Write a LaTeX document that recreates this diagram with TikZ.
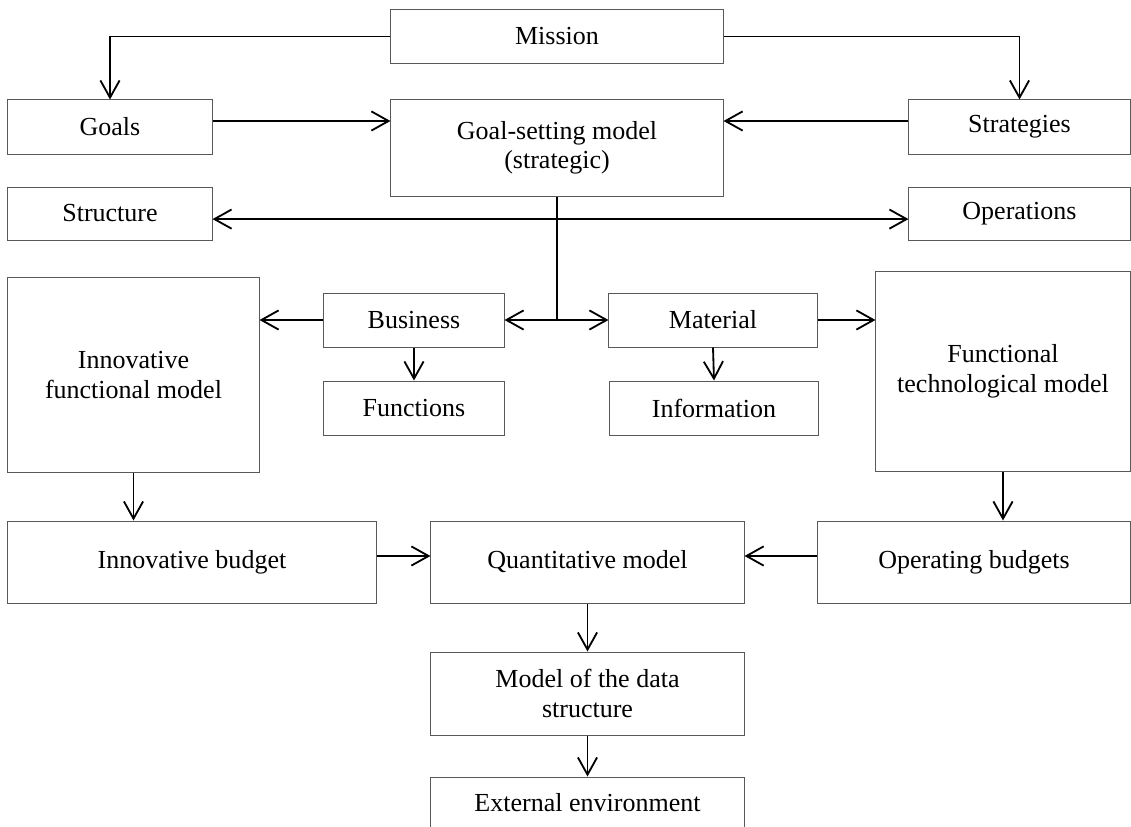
\documentclass[tikz,border=0pt]{standalone}
\usepackage{fontspec}
\setmainfont{Liberation Serif}
\usetikzlibrary{arrows.meta}

\tikzset{
  box/.style={draw=black!65, line width=0.7pt, inner sep=0pt, align=center,
    font=\fontsize{18.5}{21}\selectfont},
  link/.style={line width=1.3pt},
  arr/.style={link, -{Straight Barb[length=4.3mm,width=4.8mm]}},
  biarr/.style={link, {Straight Barb[length=4.3mm,width=4.8mm]}-{Straight Barb[length=4.3mm,width=4.8mm]}},
}

\begin{document}
\begin{tikzpicture}[x=0.025cm,y=-0.025cm]
\path[use as bounding box, clip] (0,0) rectangle (1131,827);

% top part
\node[box, minimum width=8.3cm, minimum height=1.325cm] (mission) at (557,36.5) {Mission};
\node[box, minimum width=5.1cm, minimum height=1.35cm] (goals) at (110,127) {Goals};
\node[box, minimum width=8.3cm, minimum height=2.4cm] (gsm) at (557,148) {Goal-setting model\\(strategic)};
\node[box, minimum width=5.525cm, minimum height=1.35cm] (strat) at (1019.5,127) {Strategies};
\node[box, minimum width=5.1cm, minimum height=1.325cm] (struct) at (110,213.5) {Structure};
\node[box, minimum width=5.525cm, minimum height=1.325cm] (oper) at (1019.5,213.5) {Operations};

% middle part
\node[box, minimum width=6.275cm, minimum height=4.85cm] (innov) at (133.5,375) {Innovative\\functional model};
\node[box, minimum width=4.5cm, minimum height=1.35cm] (bus) at (414,320) {Business};
\node[box, minimum width=5.2cm, minimum height=1.35cm] (mat) at (713,320) {Material};
\node[box, minimum width=4.5cm, minimum height=1.35cm] (func) at (414,408) {Functions};
\node[box, minimum width=5.2cm, minimum height=1.35cm] (info) at (714,408) {Information};
\node[box, minimum width=6.35cm, minimum height=4.975cm] (ftm) at (1003,371.5) {Functional\\technological model};

% bottom part
\node[box, minimum width=9.2cm, minimum height=2.05cm] (ibud) at (192,562) {Innovative budget};
\node[box, minimum width=7.825cm, minimum height=2.05cm] (quant) at (587.5,562) {Quantitative model};
\node[box, minimum width=7.8cm, minimum height=2.05cm] (obud) at (974,562) {Operating budgets};
\node[box, minimum width=7.825cm, minimum height=2.075cm] (dsm) at (587.5,693.5) {Model of the data\\structure};
\node[box, minimum width=7.825cm, minimum height=1.3cm] (ext) at (587.5,803) {External environment};

% connectors
\draw[arr] (mission.west) -| (goals.north);
\draw[arr] (mission.east) -| (strat.north);
\coordinate (g1) at ([yshift=0.15cm]goals.east);
\coordinate (s1) at ([yshift=0.15cm]strat.west);
\draw[arr] (g1) -- (g1 -| gsm.west);
\draw[arr] (s1) -- (s1 -| gsm.east);
\coordinate (t1) at ([yshift=-0.14cm]struct.east);
\draw[biarr] (t1) -- (t1 -| oper.west);
\coordinate (hub) at (gsm.south |- bus.east);
\draw[link] (gsm.south) -- (hub);
\draw[arr] (hub) -- (bus.east);
\draw[arr] (hub) -- (mat.west);
\draw[arr] (bus.west) -- (bus.west -| innov.east);
\draw[arr] (mat.east) -- (mat.east -| ftm.west);
\draw[arr] (bus.south) -- (func.north);
\draw[arr] (mat.south) -- (info.north);
\draw[arr] (innov.south) -- (innov.south |- ibud.north);
\draw[arr] (ftm.south) -- (ftm.south |- obud.north);
\coordinate (b1) at ([yshift=0.15cm]ibud.east);
\coordinate (b2) at ([yshift=0.15cm]obud.west);
\draw[arr] (b1) -- (b1 -| quant.west);
\draw[arr] (b2) -- (b2 -| quant.east);
\draw[arr] (quant.south) -- (dsm.north);
\draw[arr] (dsm.south) -- (ext.north);
\end{tikzpicture}
\end{document}
